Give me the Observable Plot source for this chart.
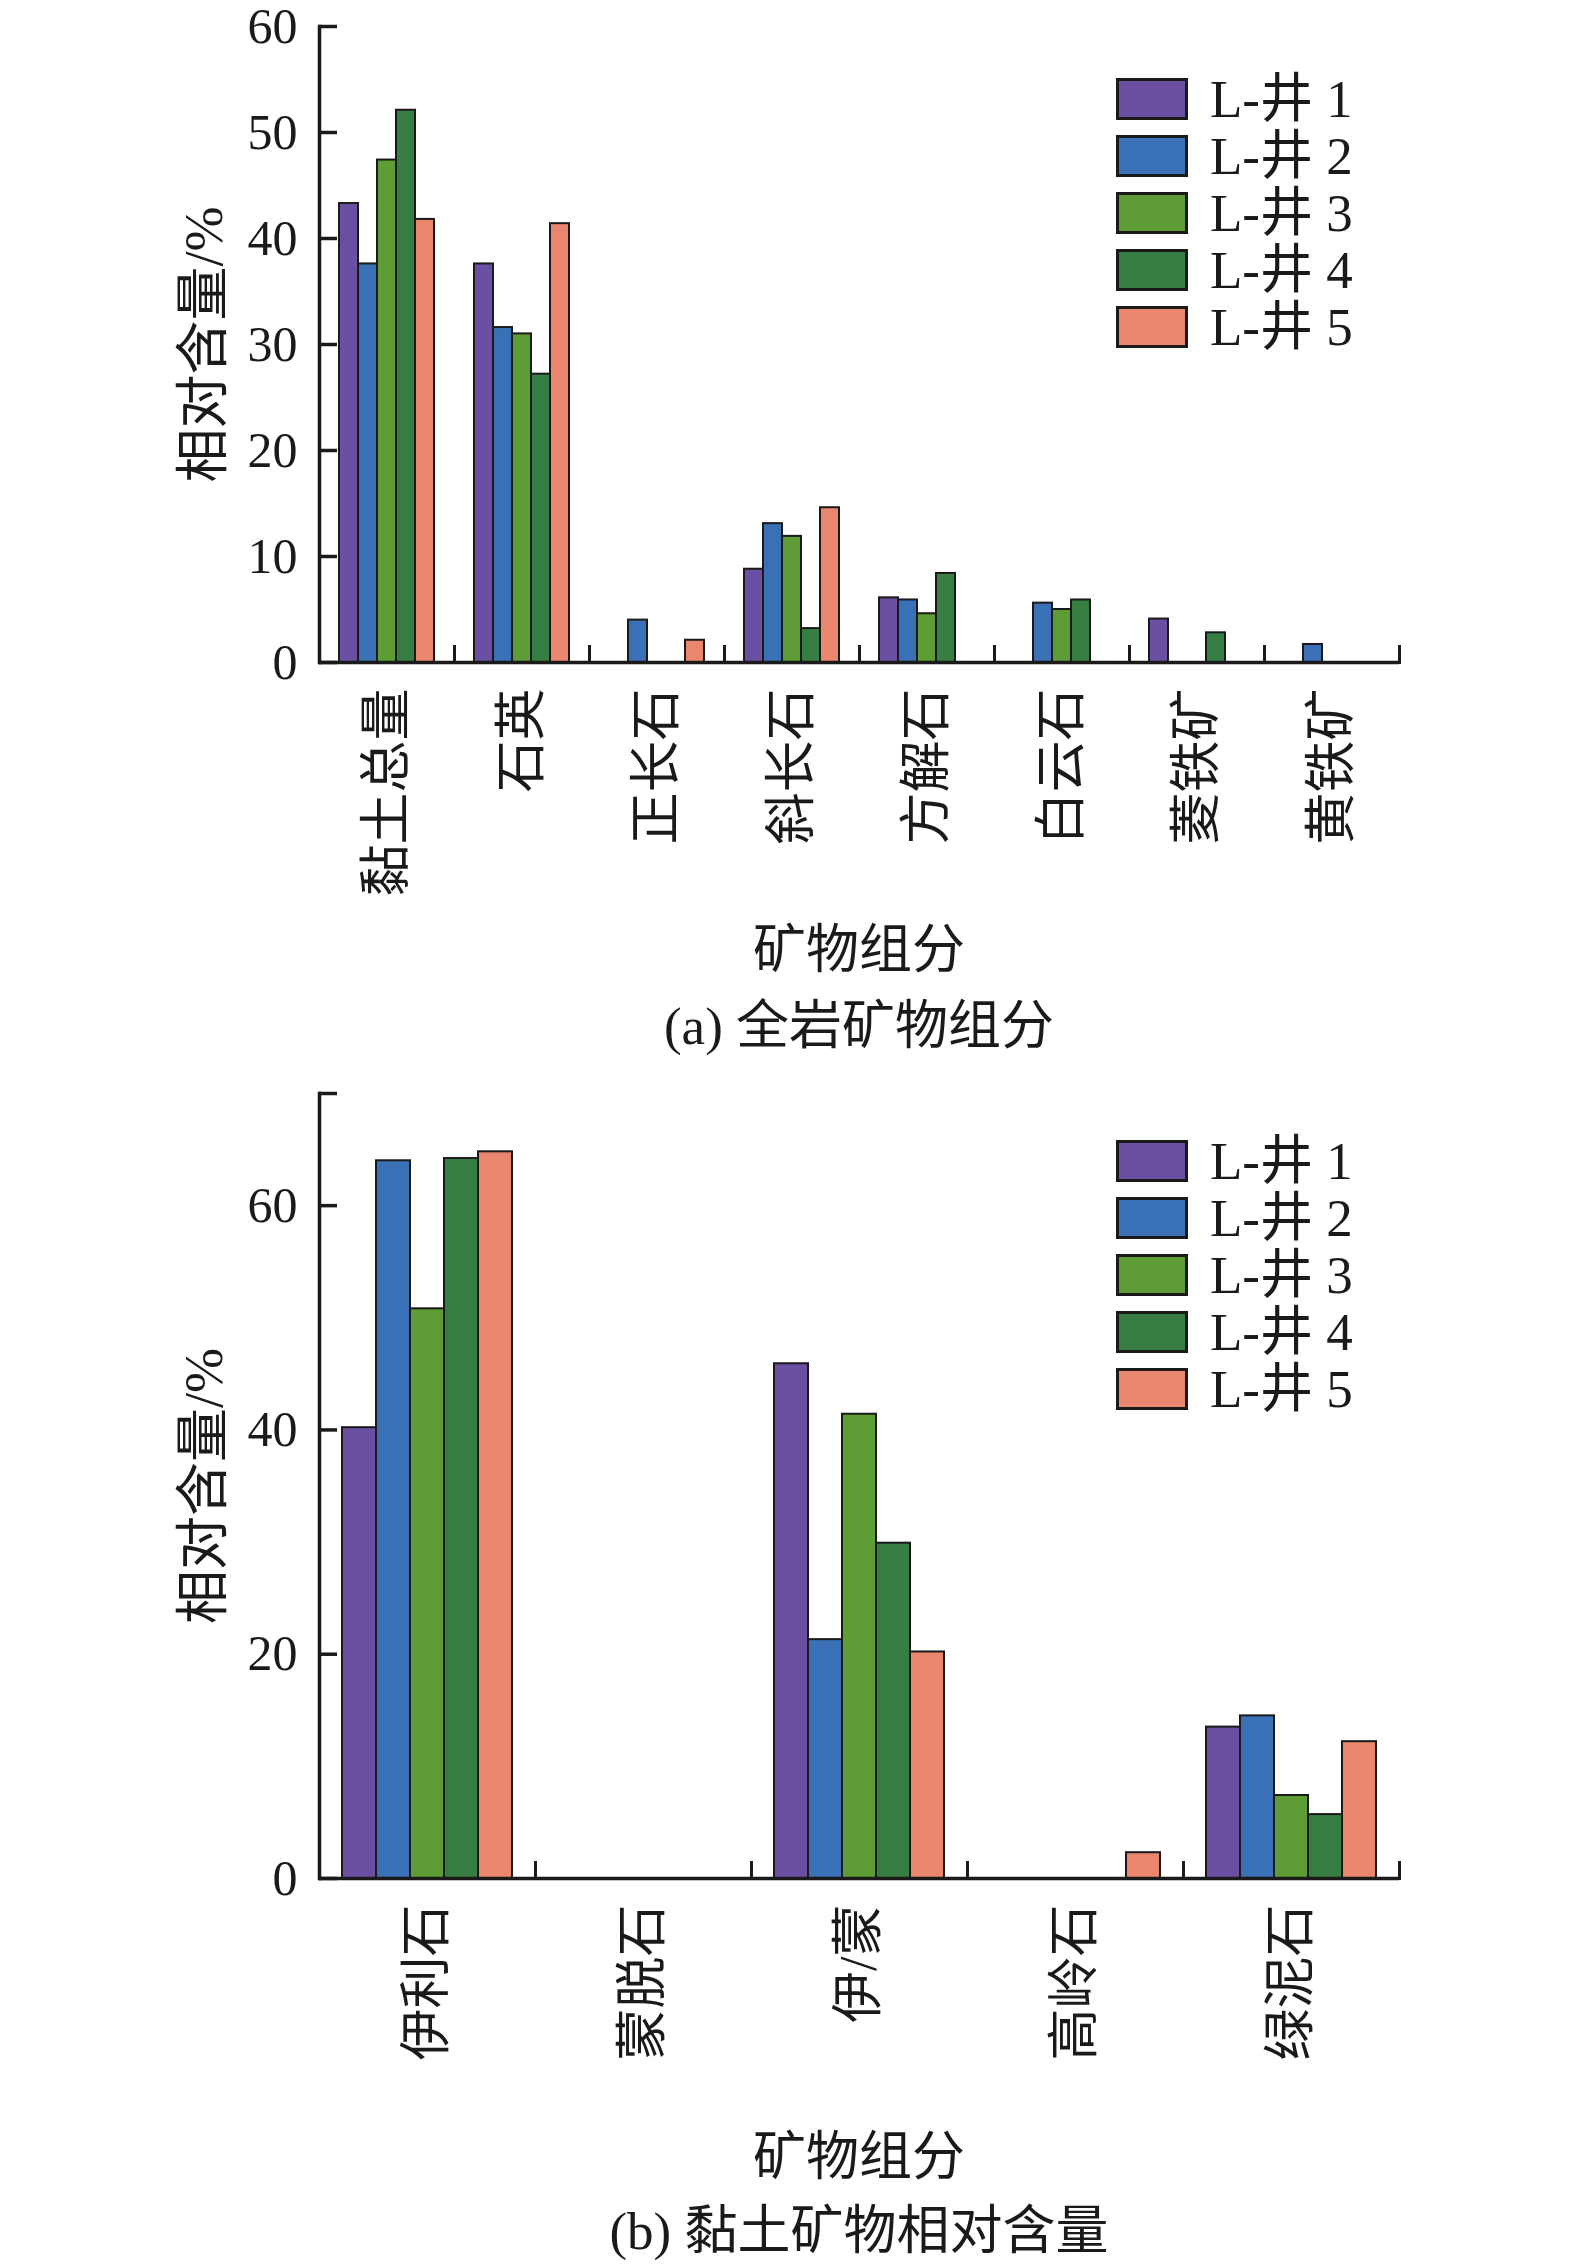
<!DOCTYPE html>
<html><head><meta charset="utf-8">
<script src="https://cdn.jsdelivr.net/npm/d3@7"></script>
<script src="https://cdn.jsdelivr.net/npm/@observablehq/plot@0.6"></script>
<style>
body{margin:0;background:#fff;width:1575px;height:2266px;position:relative;overflow:hidden;font-family:'Liberation Serif','Noto Sans CJK SC',serif;color:#1a1a1a}
.abs{position:absolute}
.cap{position:absolute;left:318px;width:1082px;text-align:center;font-size:53px;line-height:1;transform:translateY(-50%);white-space:nowrap}
.leg{position:absolute;left:1116px}
.row{position:relative;height:57px}
.sw{position:absolute;left:0;top:0;width:72px;height:42px;box-sizing:border-box;border:3px solid #1a1a1a}
.lt{position:absolute;left:94px;top:21px;transform:translateY(-50%);font-size:53px;line-height:1;white-space:nowrap}
</style></head><body>
<div id="a" class="abs" style="left:0;top:0"></div>
<div id="b" class="abs" style="left:0;top:1053px"></div>
<div class="cap" style="top:950px">矿物组分</div>
<div class="cap" style="top:1026px">(a) 全岩矿物组分</div>
<div class="cap" style="top:2157px">矿物组分</div>
<div class="cap" style="top:2231px">(b) 黏土矿物相对含量</div>
<div id="legA" class="leg" style="top:78px"></div>
<div id="legB" class="leg" style="top:1140px"></div>
<script>
const wells = ["L-井 1", "L-井 2", "L-井 3", "L-井 4", "L-井 5"];
const colors = ["#6a4fa3", "#3a70b5", "#5e9c35", "#367e41", "#ea856e"];

const catsA = ["黏土总量", "石英", "正长石", "斜长石", "方解石", "白云石", "菱铁矿", "黄铁矿"];
const well1A = [43.3, 37.6, 0, 8.8, 6.1, 0, 4.1, 0];
const well2A = [37.6, 31.6, 4.0, 13.1, 5.9, 5.6, 0, 1.7];
const well3A = [47.4, 31.0, 0, 11.9, 4.6, 5.0, 0, 0];
const well4A = [52.1, 27.2, 0, 3.2, 8.4, 5.9, 2.8, 0];
const well5A = [41.8, 41.4, 2.1, 14.6, 0, 0, 0, 0];
const yTicksA = [0, 10, 20, 30, 40, 50, 60];
const yLabelsA = [0, 10, 20, 30, 40, 50, 60];

const catsB = ["伊利石", "蒙脱石", "伊/蒙", "高岭石", "绿泥石"];
const well1B = [40.2, 0, 45.9, 0, 13.5];
const well2B = [64.0, 0, 21.3, 0, 14.5];
const well3B = [50.8, 0, 41.4, 0, 7.4];
const well4B = [64.2, 0, 29.9, 0, 5.7];
const well5B = [64.8, 0, 20.2, 2.3, 12.2];
const yTicksB = [0, 20, 40, 60, 70];
const yLabelsB = [0, 20, 40, 60];

const FONT = "'Liberation Serif','Noto Sans CJK SC',serif";
const INK = "#1a1a1a";

function chart({cats, series, yMax, yTicks, yLabels, paddingOuter, height, marginTop, marginBottom}) {
  const rows = [];
  cats.forEach((c, i) => series.forEach((s, j) => rows.push({cat: c, well: wells[j], value: s[i]})));
  const plotH = height - marginTop - marginBottom;
  return Plot.plot({
    width: 1575, height, marginLeft: 318, marginRight: 175, marginTop, marginBottom,
    style: {fontFamily: FONT, fontSize: "50px", color: INK, background: "transparent", overflow: "visible"},
    fx: {domain: cats, paddingInner: 0, paddingOuter: 0, label: null},
    x: {domain: wells, paddingInner: 0, paddingOuter, axis: null},
    y: {domain: [0, yMax]},
    color: {domain: wells, range: colors},
    marks: [
      Plot.barY(rows, {fx: "cat", x: "well", y: "value", fill: "none", stroke: "none"}),
      Plot.barY(rows.filter(d => d.value > 0), {fx: "cat", x: "well", y: "value", fill: "well", stroke: INK, strokeWidth: 2}),
      Plot.ruleY([0], {stroke: INK, strokeWidth: 3.5}),
      Plot.frame({anchor: "right", stroke: INK, strokeWidth: 3, insetTop: plotH - 16}),
      Plot.frame({anchor: "left", stroke: INK, strokeWidth: 3.5, facetAnchor: "left"}),
      Plot.axisY({ticks: yTicks, tickSize: -18, tickPadding: 40, stroke: INK, strokeWidth: 3.5,
        strokeOpacity: 1, fontSize: 50, tickFormat: d => yLabels.includes(d) ? String(d) : "", label: null, facetAnchor: "left"}),
      Plot.axisY({ticks: [], tickSize: 0, fontSize: 54, label: "相对含量/%", labelAnchor: "center",
        labelArrow: "none", labelOffset: 136, facetAnchor: "left"}),
      Plot.axisFx({anchor: "bottom", tickSize: 0, tickRotate: -90, tickPadding: 26, fontSize: 52, label: null})
    ]
  });
}

document.getElementById("a").appendChild(chart({
  cats: catsA, series: [well1A, well2A, well3A, well4A, well5A], yMax: 60, yTicks: yTicksA, yLabels: yLabelsA,
  paddingOuter: 0.97, height: 920, marginTop: 26, marginBottom: 258
}));
document.getElementById("b").appendChild(chart({
  cats: catsB, series: [well1B, well2B, well3B, well4B, well5B], yMax: 70, yTicks: yTicksB, yLabels: yLabelsB,
  paddingOuter: 0.62, height: 1025, marginTop: 40, marginBottom: 200
}));

function legend(id) {
  const el = document.getElementById(id);
  wells.forEach((w, i) => {
    const row = document.createElement("div");
    row.className = "row";
    const sw = document.createElement("div");
    sw.className = "sw";
    sw.style.background = colors[i];
    const t = document.createElement("div");
    t.className = "lt";
    t.textContent = w;
    row.appendChild(sw); row.appendChild(t);
    el.appendChild(row);
  });
}
legend("legA");
legend("legB");
</script>
</body></html>
